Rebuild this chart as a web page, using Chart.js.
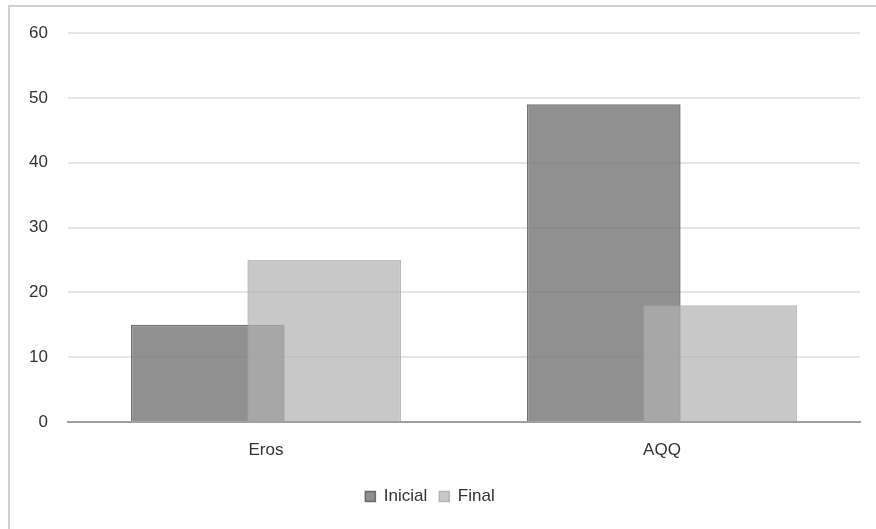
<!DOCTYPE html>
<html>
<head>
<meta charset="utf-8">
<script src="https://cdn.jsdelivr.net/npm/chart.js@4"></script>
<style>
  html, body { margin: 0; padding: 0; background: #fff; }
  #wrap { position: relative; width: 876px; height: 529px; }
  #frame { position: absolute; left: 8px; top: 5px; right: 0; bottom: 0;
           border-top: 2px solid #cfcfcf; border-left: 2px solid #cfcfcf; }
  canvas { position: absolute; left: 0; top: 0; }
</style>
</head>
<body>
<div id="wrap">
  <div id="frame"></div>
  <canvas id="chart" width="876" height="529"></canvas>
</div>
<script>
// Datos del gráfico
const categorias = ['Eros', 'AQQ'];
const inicial = [15, 49];
const final = [25, 18];
const ejeY = { min: 0, max: 60, paso: 10 };

const fuente = { family: 'Liberation Sans', size: 17 };

// Dibuja la serie "Final" encima de "Inicial" (Chart.js pone la primera encima por defecto)
const finalEncima = {
  id: 'finalEncima',
  beforeDatasetDraw(chart, args) {
    if (args.index === 1) return false;
  },
  afterDatasetsDraw(chart) {
    chart.getDatasetMeta(1).controller.draw();
  }
};

const ctx = document.getElementById('chart');

const chart = new Chart(ctx, {
  type: 'bar',
  data: {
    labels: categorias,
    datasets: [
      {
        label: 'Inicial',
        data: inicial,
        backgroundColor: 'rgba(120, 120, 120, 0.82)',
        borderColor: 'rgba(90, 90, 90, 0.85)',
        borderWidth: 1.5,
        categoryPercentage: 0.588,
        barPercentage: 1.32
      },
      {
        label: 'Final',
        data: final,
        backgroundColor: 'rgba(177, 177, 177, 0.7)',
        borderColor: 'rgba(170, 170, 170, 0.8)',
        borderWidth: 1.5,
        categoryPercentage: 0.588,
        barPercentage: 1.32
      }
    ]
  },
  options: {
    responsive: false,
    animation: false,
    layout: { padding: { left: 0, right: 16, top: 33, bottom: 14 } },
    plugins: {
      tooltip: { enabled: false },
      legend: {
        position: 'bottom',
        labels: {
          boxWidth: 10,
          boxHeight: 10,
          padding: 12,
          color: '#333',
          font: fuente
        }
      }
    },
    scales: {
      x: {
        grid: { display: false, drawTicks: false },
        border: { display: true, color: '#a0a0a0', width: 2 },
        ticks: {
          padding: 18,
          color: '#333',
          font: fuente
        },
        afterFit: s => { s.height = 54; }
      },
      y: {
        min: ejeY.min,
        max: ejeY.max,
        grid: { color: '#e6e6e6', lineWidth: 2, drawTicks: false },
        border: { display: false },
        ticks: {
          stepSize: ejeY.paso,
          padding: 20,
          color: '#333',
          font: fuente
        },
        afterFit: s => { s.width = 68; }
      }
    }
  },
  plugins: [finalEncima]
});
</script>
</body>
</html>
